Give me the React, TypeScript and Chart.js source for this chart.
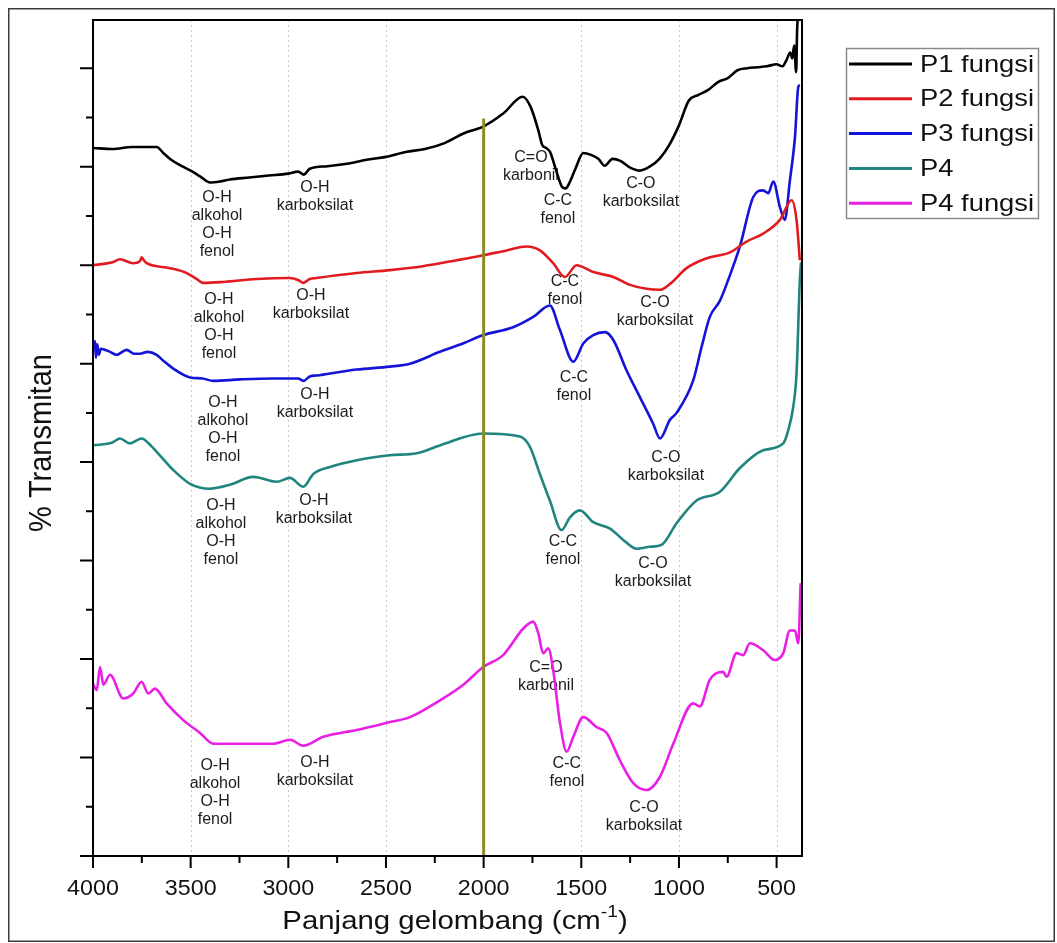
import React, { useEffect, useRef } from "react";
import { Chart, registerables } from "chart.js";

Chart.register(...registerables);

// ---------- data (wavenumber in cm-1, % transmittance, offset spectra) ----------
const p1Wave = [4000, 3900, 3800, 3700, 3674, 3640, 3600, 3550, 3500, 3450, 3400, 3350, 3300, 3200, 3100, 3000, 2950, 2920, 2890, 2800, 2700, 2600, 2500, 2400, 2300, 2200, 2100, 2000, 1900, 1800, 1760, 1720, 1700, 1680, 1660, 1630, 1600, 1580, 1560, 1530, 1490, 1450, 1413, 1380, 1340, 1300, 1250, 1200, 1150, 1100, 1050, 1000, 950, 900, 850, 800, 750, 700, 650, 600, 550, 500, 470, 450, 430, 420, 410, 400, 395, 388];
const p1T = [71.9, 71.8, 72.0, 72.0, 72.0, 71.4, 70.7, 70.1, 69.6, 69.0, 68.4, 68.5, 68.7, 68.9, 69.1, 69.3, 69.5, 69.2, 69.8, 70.05, 70.3, 70.7, 71.0, 71.5, 71.8, 72.4, 73.4, 74.1, 75.4, 77.1, 76.1, 73.7, 72.2, 71.9, 71.5, 69.7, 68.0, 67.8, 68.4, 69.8, 71.4, 71.2, 70.8, 70.1, 70.8, 70.6, 69.9, 69.6, 70.0, 70.8, 72.2, 74.2, 76.7, 77.3, 77.8, 78.6, 79.0, 79.8, 80.0, 80.1, 80.2, 80.4, 80.2, 80.8, 81.6, 81.0, 82.3, 79.6, 83.9, 86.0];

const p2Wave = [4000, 3900, 3862, 3794, 3760, 3751, 3740, 3725, 3606, 3520, 3470, 3437, 3334, 3162, 2992, 2950, 2923, 2890, 2855, 2650, 2480, 2311, 2138, 2002, 1882, 1780, 1712, 1644, 1584, 1524, 1439, 1336, 1251, 1166, 1097, 1046, 961, 858, 739, 654, 569, 483, 423, 398, 381];
const p2T = [60.0, 60.3, 60.6, 60.2, 60.4, 60.8, 60.5, 60.2, 59.7, 59.2, 58.6, 58.2, 58.3, 58.6, 58.7, 58.5, 58.2, 58.6, 58.7, 59.2, 59.5, 59.9, 60.5, 61.0, 61.5, 61.9, 61.5, 60.2, 58.8, 60.0, 59.3, 58.8, 58.0, 57.6, 57.5, 58.1, 59.7, 60.7, 61.3, 62.4, 63.2, 64.6, 66.6, 64.6, 60.5];

const p3Wave = [4000, 3990, 3985, 3978, 3970, 3960, 3913, 3880, 3828, 3790, 3760, 3720, 3674, 3640, 3589, 3503, 3440, 3384, 3248, 3077, 2950, 2923, 2890, 2855, 2650, 2480, 2377, 2224, 2100, 2002, 1849, 1746, 1661, 1609, 1541, 1490, 1439, 1379, 1336, 1268, 1200, 1132, 1097, 1046, 1012, 927, 884, 842, 790, 748, 688, 620, 569, 543, 517, 483, 458, 432, 406, 389, 381];
const p3T = [51.4, 52.3, 50.6, 52.0, 50.9, 51.5, 51.2, 50.9, 51.4, 51.0, 51.0, 51.2, 50.9, 50.3, 49.5, 48.6, 48.5, 48.25, 48.4, 48.5, 48.5, 48.25, 48.7, 48.8, 49.4, 49.7, 50.0, 51.2, 52.1, 52.9, 53.7, 54.75, 55.9, 53.4, 50.2, 52.05, 52.9, 53.2, 52.4, 49.3, 46.6, 43.9, 42.4, 44.3, 45.0, 48.3, 51.7, 54.75, 56.4, 58.5, 61.9, 66.9, 67.6, 67.3, 68.5, 65.9, 64.6, 68.6, 73.0, 78.1, 78.3];

const p4Wave = [4000, 3900, 3862, 3811, 3751, 3700, 3674, 3589, 3503, 3401, 3299, 3179, 3060, 2992, 2923, 2872, 2787, 2650, 2480, 2343, 2224, 2002, 1814, 1763, 1712, 1661, 1601, 1558, 1507, 1439, 1353, 1285, 1217, 1149, 1089, 1012, 910, 790, 688, 569, 466, 441, 415, 398, 381, 375];
const p4T = [41.7, 42.0, 42.4, 41.9, 42.4, 41.6, 41.05, 39.2, 37.8, 37.3, 37.7, 38.5, 38.0, 38.4, 37.5, 38.8, 39.5, 40.2, 40.7, 40.9, 41.7, 42.9, 42.6, 41.55, 38.8, 36.1, 33.1, 34.4, 35.1, 33.9, 33.25, 32.1, 31.2, 31.4, 31.6, 33.8, 36.1, 37.0, 39.4, 41.2, 41.9, 43.2, 45.6, 49.0, 58.5, 60.3];

const p5Wave = [4000, 3981, 3964, 3947, 3913, 3845, 3794, 3751, 3717, 3683, 3623, 3538, 3452, 3384, 3248, 3077, 2992, 2923, 2821, 2650, 2480, 2377, 2224, 2104, 2002, 1900, 1797, 1746, 1720, 1695, 1669, 1644, 1609, 1575, 1541, 1490, 1422, 1370, 1302, 1234, 1166, 1097, 1029, 927, 893, 842, 774, 756, 705, 671, 637, 569, 509, 466, 432, 406, 389, 377];
const p5T = [17.5, 16.85, 19.2, 17.4, 18.4, 16.0, 16.5, 17.7, 16.5, 17.0, 15.5, 13.8, 12.5, 11.4, 11.4, 11.4, 11.8, 11.2, 12.1, 12.8, 13.6, 14.1, 15.8, 17.4, 19.2, 20.4, 23.1, 23.8, 22.6, 20.6, 21.1, 18.9, 13.5, 10.6, 12.1, 14.1, 13.1, 12.5, 9.7, 7.4, 6.7, 8.05, 11.4, 15.5, 15.2, 17.9, 18.7, 18.2, 20.6, 20.4, 21.6, 20.9, 19.9, 20.6, 22.9, 22.9, 21.6, 27.7];

const seriesLabels = ["P1 fungsi", "P2 fungsi", "P3 fungsi", "P4", "P4 fungsi"];
const seriesWaves = [p1Wave, p2Wave, p3Wave, p4Wave, p5Wave];
const seriesValues = [p1T, p2T, p3T, p4T, p5T];
const seriesColors = ["#000000", "#e11b1f", "#1414d8", "#20857f", "#ea1fe6"];

const xTickValues = [4000, 3500, 3000, 2500, 2000, 1500, 1000, 500];
const xTickLabels = ["4000", "3500", "3000", "2500", "2000", "1500", "1000", "500"];
const xMinorTicks = [3750, 3250, 2750, 2250, 1750, 1250, 750];
const yMajorTicks = [0, 10, 20, 30, 40, 50, 60, 70, 80];
const yMinorTicks = [5, 15, 25, 35, 45, 55, 65, 75];
const gridValues = [3500, 3000, 2500, 1500, 1000, 500];
const markerWave = 2000;
const markerTop = 74.9;

const annWaves = [3365, 2864, 1758, 1620, 1195, 3355, 2884, 1584, 1123, 3335, 2864, 1538, 1067, 3345, 2869, 1594, 1133, 3375, 2864, 1681, 1574, 1179];
const annLevels = [66.9, 67.9, 70.9, 66.6, 68.3, 56.5, 56.9, 58.3, 56.2, 46.0, 46.9, 48.6, 40.5, 35.6, 36.1, 31.9, 29.7, 9.2, 9.5, 19.1, 9.4, 4.9];
const annTexts = [
  ["O-H", "alkohol", "O-H", "fenol"], ["O-H", "karboksilat"], ["C=O", "karbonil"], ["C-C", "fenol"], ["C-O", "karboksilat"],
  ["O-H", "alkohol", "O-H", "fenol"], ["O-H", "karboksilat"], ["C-C", "fenol"], ["C-O", "karboksilat"],
  ["O-H", "alkohol", "O-H", "fenol"], ["O-H", "karboksilat"], ["C-C", "fenol"], ["C-O", "karboksilat"],
  ["O-H", "alkohol", "O-H", "fenol"], ["O-H", "karboksilat"], ["C-C", "fenol"], ["C-O", "karboksilat"],
  ["O-H", "alkohol", "O-H", "fenol"], ["O-H", "karboksilat"], ["C=O", "karbonil"], ["C-C", "fenol"], ["C-O", "karboksilat"],
];

const FONT = 'Arial, "Liberation Sans", Helvetica, sans-serif';

function stretchedText(ctx: CanvasRenderingContext2D, s: string, x: number, y: number, sx: number) {
  ctx.save();
  ctx.translate(x, y);
  ctx.scale(sx, 1);
  ctx.fillText(s, 0, 0);
  ctx.restore();
}

const decor = {
  id: "decor",
  beforeDatasetsDraw(chart: any) {
    const { ctx, chartArea: a, scales } = chart;
    const x = scales.x, y = scales.y;
    ctx.save();
    ctx.strokeStyle = "#c9c9c9";
    ctx.lineWidth = 1;
    ctx.setLineDash([2, 3]);
    for (const v of gridValues) {
      const px = Math.round(x.getPixelForValue(v)) + 0.5;
      ctx.beginPath();
      ctx.moveTo(px, a.top);
      ctx.lineTo(px, a.bottom);
      ctx.stroke();
    }
    ctx.setLineDash([]);
    ctx.fillStyle = "#1c1c1c";
    ctx.font = `16px ${FONT}`;
    ctx.textAlign = "center";
    ctx.textBaseline = "middle";
    annTexts.forEach((lines, i) => {
      const cx = x.getPixelForValue(annWaves[i]);
      const cy = y.getPixelForValue(annLevels[i]);
      lines.forEach((s, j) => ctx.fillText(s, cx, cy + j * 18));
    });
    ctx.restore();
  },
  afterDatasetsDraw(chart: any) {
    const { ctx, chartArea: a, scales } = chart;
    const x = scales.x, y = scales.y;
    ctx.save();
    // olive marker line
    ctx.strokeStyle = "#8c8c24";
    ctx.lineWidth = 3;
    const mx = x.getPixelForValue(markerWave);
    ctx.beginPath();
    ctx.moveTo(mx, y.getPixelForValue(markerTop));
    ctx.lineTo(mx, y.getPixelForValue(0));
    ctx.stroke();

    // frame
    ctx.strokeStyle = "#000";
    ctx.lineWidth = 2;
    ctx.strokeRect(a.left, a.top, a.right - a.left, a.bottom - a.top);

    // ticks
    ctx.lineWidth = 2;
    ctx.beginPath();
    for (const v of yMajorTicks) {
      const py = y.getPixelForValue(v);
      ctx.moveTo(a.left - 13, py);
      ctx.lineTo(a.left, py);
    }
    for (const v of yMinorTicks) {
      const py = y.getPixelForValue(v);
      ctx.moveTo(a.left - 7, py);
      ctx.lineTo(a.left, py);
    }
    for (const v of xTickValues) {
      const px = x.getPixelForValue(v);
      ctx.moveTo(px, a.bottom);
      ctx.lineTo(px, a.bottom + 12);
    }
    for (const v of xMinorTicks) {
      const px = x.getPixelForValue(v);
      ctx.moveTo(px, a.bottom);
      ctx.lineTo(px, a.bottom + 7);
    }
    ctx.stroke();

    // tick labels
    ctx.fillStyle = "#111";
    ctx.font = `22px ${FONT}`;
    ctx.textAlign = "center";
    ctx.textBaseline = "alphabetic";
    xTickValues.forEach((v, i) => {
      stretchedText(ctx, xTickLabels[i], x.getPixelForValue(v), a.bottom + 39, 1.06);
    });

    // x title with superscript
    const sx = 1.13;
    ctx.font = `26px ${FONT}`;
    ctx.textAlign = "left";
    const t1 = "Panjang gelombang (cm";
    const t3 = ")";
    const w1 = ctx.measureText(t1).width * sx;
    const w3 = ctx.measureText(t3).width * sx;
    ctx.font = `17px ${FONT}`;
    const t2 = "-1";
    const w2 = ctx.measureText(t2).width * sx;
    const total = w1 + w2 + w3;
    const cxT = 455;
    let tx = cxT - total / 2;
    const base = a.bottom + 73;
    ctx.font = `26px ${FONT}`;
    stretchedText(ctx, t1, tx, base, sx);
    tx += w1;
    ctx.font = `17px ${FONT}`;
    stretchedText(ctx, t2, tx, base - 12, sx);
    tx += w2;
    ctx.font = `26px ${FONT}`;
    stretchedText(ctx, t3, tx, base, sx);

    // y title
    ctx.save();
    ctx.translate(51, (a.top + a.bottom) / 2 + 5);
    ctx.rotate(-Math.PI / 2);
    ctx.scale(1.0, 1.1);
    ctx.textAlign = "center";
    ctx.textBaseline = "alphabetic";
    ctx.font = `29px ${FONT}`;
    ctx.fillText("% Transmitan", 0, 0);
    ctx.restore();

    // legend
    ctx.strokeStyle = "#8a8a8a";
    ctx.lineWidth = 1.5;
    ctx.strokeRect(846.5, 48.5, 192, 170);
    ctx.font = `24px ${FONT}`;
    ctx.textAlign = "left";
    ctx.textBaseline = "middle";
    seriesLabels.forEach((lab, i) => {
      const ly = 64 + i * 34.8;
      ctx.strokeStyle = seriesColors[i];
      ctx.lineWidth = 3;
      ctx.beginPath();
      ctx.moveTo(849, ly);
      ctx.lineTo(912, ly);
      ctx.stroke();
      ctx.fillStyle = "#111";
      stretchedText(ctx, lab, 920, ly + 1, 1.14);
    });

    // outer border of figure
    ctx.strokeStyle = "#3a3a3a";
    ctx.lineWidth = 1.5;
    ctx.strokeRect(8.75, 8.75, 1045.5, 932.5);
    ctx.restore();
  },
};

export default function App() {
  const ref = useRef<HTMLCanvasElement | null>(null);
  useEffect(() => {
    if (!ref.current) return;
    const datasets = seriesLabels.map((label, i) => ({
      label,
      data: seriesWaves[i].map((w, k) => ({ x: w, y: seriesValues[i][k] })).filter((p) => p.y !== undefined),
      borderColor: seriesColors[i],
      backgroundColor: seriesColors[i],
      borderWidth: 2.6,
      pointRadius: 0,
      cubicInterpolationMode: "monotone" as const,
      fill: false,
    }));
    const chart = new Chart(ref.current, {
      type: "line",
      data: { datasets },
      options: {
        responsive: false,
        animation: false,
        devicePixelRatio: 1,
        parsing: false as any,
        layout: { padding: { left: 93, top: 20, right: 1057 - 802, bottom: 943 - 856 } },
        scales: {
          x: { type: "linear", reverse: true, min: 370, max: 4000, display: false },
          y: { type: "linear", min: 0, max: 84.9, display: false },
        },
        plugins: { legend: { display: false }, tooltip: { enabled: false } },
        elements: { point: { radius: 0 } },
      },
      plugins: [decor],
    });
    return () => chart.destroy();
  }, []);
  return (
    <div style={{ position: "absolute", left: 0, top: 0, width: 1057, height: 943, background: "#fff" }}>
      <canvas ref={ref} width={1057} height={943} style={{ display: "block", width: 1057, height: 943 }} />
    </div>
  );
}
